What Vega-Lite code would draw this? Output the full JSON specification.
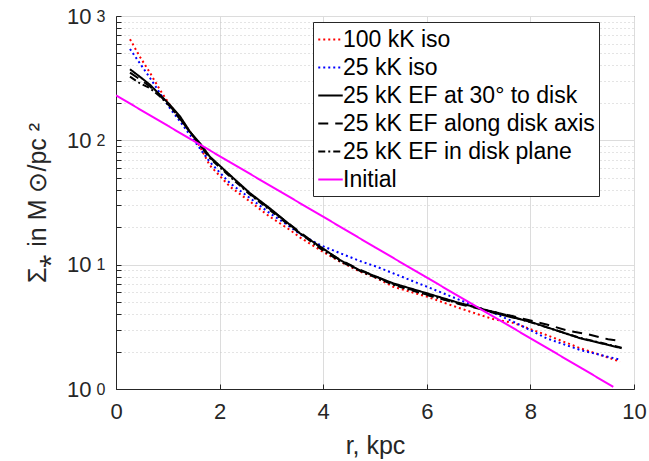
{
  "$schema": "https://vega.github.io/schema/vega-lite/v6.json",
  "width": 518,
  "height": 373,
  "autosize": {"type": "none"},
  "padding": {"left": 116, "top": 16, "right": 15, "bottom": 72},
  "background": "white",
  "config": {
    "font": "Liberation Sans",
    "view": {"stroke": "#262626", "strokeWidth": 1},
    "axis": {"labelFont": "Liberation Sans", "titleFont": "Liberation Sans", "titleFontWeight": "normal", "labelColor": "#262626", "titleColor": "#262626", "domainColor": "#262626", "tickColor": "#262626"}
  },
  "data": {
    "values": [
      {"r": 0.27, "s": 650, "series": "100 kK iso"},
      {"r": 0.46, "s": 471, "series": "100 kK iso"},
      {"r": 0.66, "s": 347, "series": "100 kK iso"},
      {"r": 0.85, "s": 254, "series": "100 kK iso"},
      {"r": 1.04, "s": 193, "series": "100 kK iso"},
      {"r": 1.24, "s": 151, "series": "100 kK iso"},
      {"r": 1.43, "s": 117, "series": "100 kK iso"},
      {"r": 1.62, "s": 89, "series": "100 kK iso"},
      {"r": 1.81, "s": 63, "series": "100 kK iso"},
      {"r": 2.2, "s": 42.4, "series": "100 kK iso"},
      {"r": 2.59, "s": 32.1, "series": "100 kK iso"},
      {"r": 2.97, "s": 24.3, "series": "100 kK iso"},
      {"r": 3.36, "s": 19, "series": "100 kK iso"},
      {"r": 3.55, "s": 16.6, "series": "100 kK iso"},
      {"r": 3.94, "s": 13.1, "series": "100 kK iso"},
      {"r": 4.32, "s": 10.6, "series": "100 kK iso"},
      {"r": 4.71, "s": 8.8, "series": "100 kK iso"},
      {"r": 5.03, "s": 7.8, "series": "100 kK iso"},
      {"r": 5.35, "s": 6.65, "series": "100 kK iso"},
      {"r": 6.0, "s": 5.53, "series": "100 kK iso"},
      {"r": 6.64, "s": 4.46, "series": "100 kK iso"},
      {"r": 7.03, "s": 3.94, "series": "100 kK iso"},
      {"r": 7.28, "s": 3.65, "series": "100 kK iso"},
      {"r": 7.67, "s": 3.4, "series": "100 kK iso"},
      {"r": 8.31, "s": 2.72, "series": "100 kK iso"},
      {"r": 8.96, "s": 2.13, "series": "100 kK iso"},
      {"r": 9.73, "s": 1.66, "series": "100 kK iso"},

      {"r": 0.27, "s": 543, "series": "25 kK iso"},
      {"r": 0.46, "s": 417, "series": "25 kK iso"},
      {"r": 0.66, "s": 316, "series": "25 kK iso"},
      {"r": 0.85, "s": 239, "series": "25 kK iso"},
      {"r": 1.04, "s": 181, "series": "25 kK iso"},
      {"r": 1.24, "s": 141, "series": "25 kK iso"},
      {"r": 1.43, "s": 110, "series": "25 kK iso"},
      {"r": 1.62, "s": 86, "series": "25 kK iso"},
      {"r": 1.81, "s": 67, "series": "25 kK iso"},
      {"r": 2.2, "s": 45.2, "series": "25 kK iso"},
      {"r": 2.59, "s": 34.2, "series": "25 kK iso"},
      {"r": 2.97, "s": 25.9, "series": "25 kK iso"},
      {"r": 3.36, "s": 20.2, "series": "25 kK iso"},
      {"r": 3.55, "s": 17.6, "series": "25 kK iso"},
      {"r": 3.94, "s": 14.4, "series": "25 kK iso"},
      {"r": 4.32, "s": 12.4, "series": "25 kK iso"},
      {"r": 4.71, "s": 10.7, "series": "25 kK iso"},
      {"r": 5.03, "s": 9.64, "series": "25 kK iso"},
      {"r": 5.35, "s": 8.53, "series": "25 kK iso"},
      {"r": 6.0, "s": 6.65, "series": "25 kK iso"},
      {"r": 6.64, "s": 5.2, "series": "25 kK iso"},
      {"r": 7.03, "s": 4.46, "series": "25 kK iso"},
      {"r": 7.28, "s": 4.1, "series": "25 kK iso"},
      {"r": 7.67, "s": 3.48, "series": "25 kK iso"},
      {"r": 8.31, "s": 2.56, "series": "25 kK iso"},
      {"r": 8.96, "s": 2.06, "series": "25 kK iso"},
      {"r": 9.73, "s": 1.72, "series": "25 kK iso"},

      {"r": 0.27, "s": 373, "series": "25 kK EF at 30° to disk"},
      {"r": 0.46, "s": 325, "series": "25 kK EF at 30° to disk"},
      {"r": 0.66, "s": 279, "series": "25 kK EF at 30° to disk"},
      {"r": 0.85, "s": 232, "series": "25 kK EF at 30° to disk"},
      {"r": 1.04, "s": 193, "series": "25 kK EF at 30° to disk"},
      {"r": 1.24, "s": 155, "series": "25 kK EF at 30° to disk"},
      {"r": 1.43, "s": 117, "series": "25 kK EF at 30° to disk"},
      {"r": 1.62, "s": 95, "series": "25 kK EF at 30° to disk"},
      {"r": 1.81, "s": 74, "series": "25 kK EF at 30° to disk"},
      {"r": 2.2, "s": 52.6, "series": "25 kK EF at 30° to disk"},
      {"r": 2.59, "s": 37.5, "series": "25 kK EF at 30° to disk"},
      {"r": 2.97, "s": 28.4, "series": "25 kK EF at 30° to disk"},
      {"r": 3.36, "s": 20.9, "series": "25 kK EF at 30° to disk"},
      {"r": 3.55, "s": 17.9, "series": "25 kK EF at 30° to disk"},
      {"r": 3.94, "s": 14, "series": "25 kK EF at 30° to disk"},
      {"r": 4.32, "s": 10.9, "series": "25 kK EF at 30° to disk"},
      {"r": 4.71, "s": 9.0, "series": "25 kK EF at 30° to disk"},
      {"r": 5.03, "s": 8.0, "series": "25 kK EF at 30° to disk"},
      {"r": 5.35, "s": 7.08, "series": "25 kK EF at 30° to disk"},
      {"r": 6.0, "s": 5.89, "series": "25 kK EF at 30° to disk"},
      {"r": 6.64, "s": 4.9, "series": "25 kK EF at 30° to disk"},
      {"r": 7.03, "s": 4.46, "series": "25 kK EF at 30° to disk"},
      {"r": 7.28, "s": 4.11, "series": "25 kK EF at 30° to disk"},
      {"r": 7.99, "s": 3.48, "series": "25 kK EF at 30° to disk"},
      {"r": 8.96, "s": 2.56, "series": "25 kK EF at 30° to disk"},
      {"r": 9.76, "s": 2.13, "series": "25 kK EF at 30° to disk"},

      {"r": 0.27, "s": 350, "series": "25 kK EF along disk axis"},
      {"r": 0.46, "s": 310, "series": "25 kK EF along disk axis"},
      {"r": 0.66, "s": 270, "series": "25 kK EF along disk axis"},
      {"r": 0.85, "s": 228, "series": "25 kK EF along disk axis"},
      {"r": 1.04, "s": 190, "series": "25 kK EF along disk axis"},
      {"r": 1.43, "s": 117, "series": "25 kK EF along disk axis"},
      {"r": 1.81, "s": 73, "series": "25 kK EF along disk axis"},
      {"r": 2.2, "s": 52, "series": "25 kK EF along disk axis"},
      {"r": 2.59, "s": 37, "series": "25 kK EF along disk axis"},
      {"r": 2.97, "s": 28, "series": "25 kK EF along disk axis"},
      {"r": 3.36, "s": 21, "series": "25 kK EF along disk axis"},
      {"r": 3.94, "s": 13.8, "series": "25 kK EF along disk axis"},
      {"r": 4.32, "s": 11, "series": "25 kK EF along disk axis"},
      {"r": 4.71, "s": 9.1, "series": "25 kK EF along disk axis"},
      {"r": 5.35, "s": 7.0, "series": "25 kK EF along disk axis"},
      {"r": 6.0, "s": 5.75, "series": "25 kK EF along disk axis"},
      {"r": 6.64, "s": 4.8, "series": "25 kK EF along disk axis"},
      {"r": 7.03, "s": 4.4, "series": "25 kK EF along disk axis"},
      {"r": 7.67, "s": 3.85, "series": "25 kK EF along disk axis"},
      {"r": 8.35, "s": 3.27, "series": "25 kK EF along disk axis"},
      {"r": 8.73, "s": 2.94, "series": "25 kK EF along disk axis"},
      {"r": 9.12, "s": 2.75, "series": "25 kK EF along disk axis"},
      {"r": 9.5, "s": 2.51, "series": "25 kK EF along disk axis"},
      {"r": 9.76, "s": 2.42, "series": "25 kK EF along disk axis"},

      {"r": 0.27, "s": 325, "series": "25 kK EF in disk plane"},
      {"r": 0.46, "s": 288, "series": "25 kK EF in disk plane"},
      {"r": 0.66, "s": 262, "series": "25 kK EF in disk plane"},
      {"r": 0.85, "s": 225, "series": "25 kK EF in disk plane"},
      {"r": 1.04, "s": 188, "series": "25 kK EF in disk plane"},
      {"r": 1.43, "s": 116, "series": "25 kK EF in disk plane"},
      {"r": 1.81, "s": 72, "series": "25 kK EF in disk plane"},
      {"r": 2.2, "s": 51, "series": "25 kK EF in disk plane"},
      {"r": 2.59, "s": 36.5, "series": "25 kK EF in disk plane"},
      {"r": 2.97, "s": 27.5, "series": "25 kK EF in disk plane"},
      {"r": 3.36, "s": 20.5, "series": "25 kK EF in disk plane"},
      {"r": 3.94, "s": 13.5, "series": "25 kK EF in disk plane"},
      {"r": 4.32, "s": 10.7, "series": "25 kK EF in disk plane"},
      {"r": 4.71, "s": 8.9, "series": "25 kK EF in disk plane"},
      {"r": 5.35, "s": 6.9, "series": "25 kK EF in disk plane"},
      {"r": 6.0, "s": 5.7, "series": "25 kK EF in disk plane"},
      {"r": 6.64, "s": 4.85, "series": "25 kK EF in disk plane"},
      {"r": 7.03, "s": 4.45, "series": "25 kK EF in disk plane"},
      {"r": 7.67, "s": 3.8, "series": "25 kK EF in disk plane"},
      {"r": 8.35, "s": 3.1, "series": "25 kK EF in disk plane"},
      {"r": 8.96, "s": 2.58, "series": "25 kK EF in disk plane"},
      {"r": 9.76, "s": 2.15, "series": "25 kK EF in disk plane"},

      {"r": 0, "s": 230, "series": "Initial"},
      {"r": 1, "s": 131, "series": "Initial"},
      {"r": 2, "s": 74.7, "series": "Initial"},
      {"r": 3, "s": 42.6, "series": "Initial"},
      {"r": 4, "s": 24.3, "series": "Initial"},
      {"r": 5, "s": 13.8, "series": "Initial"},
      {"r": 6, "s": 7.88, "series": "Initial"},
      {"r": 7, "s": 4.49, "series": "Initial"},
      {"r": 8, "s": 2.56, "series": "Initial"},
      {"r": 9, "s": 1.46, "series": "Initial"},
      {"r": 9.6, "s": 1.04, "series": "Initial"}
    ]
  },
  "resolve": {"axis": {"y": "independent"}},
  "layer": [
    {
      "mark": {"type": "line", "strokeWidth": 2, "clip": true},
      "encoding": {
        "x": {
          "field": "r", "type": "quantitative",
          "scale": {"domain": [0, 10], "nice": false, "zero": false},
          "axis": {
            "title": "r, kpc", "titleFontSize": 25, "titlePadding": 11,
            "values": [0, 2, 4, 6, 8, 10], "labelFontSize": 22,
            "tickSize": -5, "labelPadding": 17, "labelFlush": false,
            "grid": true, "gridColor": "#dcdcdc", "gridWidth": 1,
            "domainColor": "#262626"
          }
        },
        "y": {
          "field": "s", "type": "quantitative",
          "scale": {"type": "log", "domain": [1, 1000], "nice": false},
          "axis": {
            "orient": "left",
            "title": "Σ⁎ in M ⊙/pc ²", "titleFontSize": 25, "titlePadding": 16,
            "values": [1, 2, 3, 4, 5, 6, 7, 8, 9, 10, 20, 30, 40, 50, 60, 70, 80, 90, 100, 200, 300, 400, 500, 600, 700, 800, 900, 1000],
            "labelExpr": "datum.value == 1 || datum.value == 10 || datum.value == 100 || datum.value == 1000 ? '10' : ''",
            "labelFontSize": 22, "labelPadding": 30, "labelDy": 3, "labelFlush": false,
            "tickSize": -5,
            "grid": true,
            "gridColor": {"condition": {"test": "datum.value == 1 || datum.value == 10 || datum.value == 100 || datum.value == 1000", "value": "#dcdcdc"}, "value": "#c8c8c8"},
            "gridDash": {"condition": {"test": "datum.value == 1 || datum.value == 10 || datum.value == 100 || datum.value == 1000", "value": []}, "value": [1, 3]},
            "domainColor": "#262626"
          }
        },
        "color": {
          "field": "series", "type": "nominal",
          "scale": {
            "domain": ["100 kK iso", "25 kK iso", "25 kK EF at 30° to disk", "25 kK EF along disk axis", "25 kK EF in disk plane", "Initial"],
            "range": ["#ff0000", "#0000ff", "#000000", "#000000", "#000000", "#ff00ff"]
          },
          "legend": {
            "title": null,
            "orient": "none", "legendX": 197, "legendY": 6,
            "symbolType": "stroke", "symbolSize": 600, "symbolStrokeWidth": 2,
            "labelFontSize": 23, "labelColor": "#000000", "labelOffset": -1,
            "rowPadding": 2, "padding": 4,
            "strokeColor": "#262626", "fillColor": "white",
            "labelLimit": 500
          }
        },
        "strokeDash": {
          "field": "series", "type": "nominal",
          "scale": {
            "domain": ["100 kK iso", "25 kK iso", "25 kK EF at 30° to disk", "25 kK EF along disk axis", "25 kK EF in disk plane", "Initial"],
            "range": [[2, 3], [2, 3], [1, 0], [10, 7], [7, 3, 2, 3], [1, 0]]
          },
          "legend": {
            "title": null,
            "orient": "none", "legendX": 197, "legendY": 6,
            "symbolType": "stroke", "symbolSize": 600, "symbolStrokeWidth": 2,
            "labelFontSize": 23, "labelColor": "#000000", "labelOffset": -1,
            "rowPadding": 2, "padding": 4,
            "strokeColor": "#262626", "fillColor": "white",
            "labelLimit": 500
          }
        }
      }
    },
    {
      "mark": {"type": "line", "opacity": 0},
      "encoding": {
        "x": {"field": "r", "type": "quantitative", "scale": {"domain": [0, 10], "nice": false, "zero": false}},
        "y": {
          "field": "s", "type": "quantitative",
          "scale": {"type": "log", "domain": [1, 1000], "nice": false},
          "axis": {
            "orient": "left", "title": null, "domain": false, "ticks": false, "grid": false,
            "values": [1, 10, 100, 1000],
            "labelExpr": "datum.value == 1 ? '0' : datum.value == 10 ? '1' : datum.value == 100 ? '2' : '3'",
            "labelFontSize": 16, "labelPadding": 11, "labelDy": -7, "labelFlush": false
          }
        },
        "detail": {"field": "series"}
      }
    }
  ]
}
